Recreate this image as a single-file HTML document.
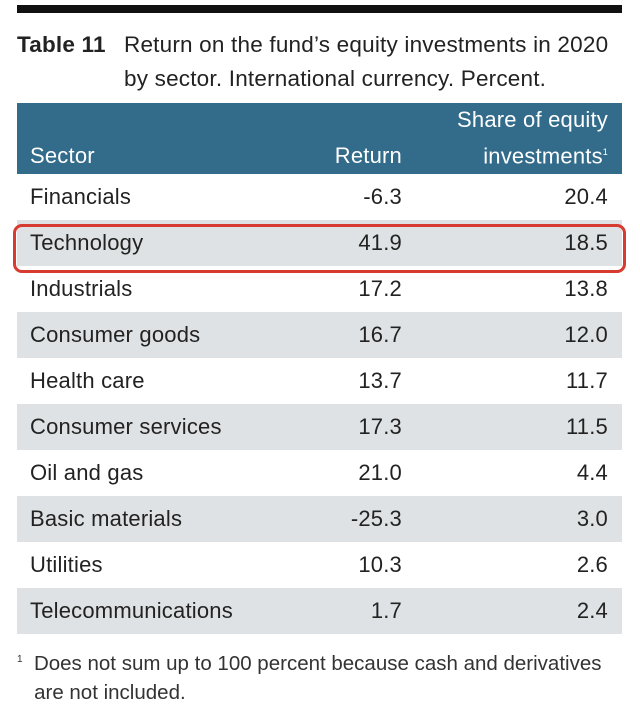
<!DOCTYPE html>
<html><head><meta charset="utf-8"><style>
body{margin:0;width:640px;height:707px;background:#fff;font-family:"Liberation Sans",sans-serif;color:#222;position:relative;overflow:hidden}
.bar{position:absolute;left:17px;top:5px;width:605px;height:8px;background:#111}
.t{position:absolute;font-size:22.5px;color:#222;line-height:34px;letter-spacing:0.2px}
table{position:absolute;left:17px;top:103px;width:605px;border-collapse:collapse;font-size:22px;table-layout:fixed;letter-spacing:0.2px}
th{background:#336b8a;color:#fff;font-weight:normal;height:70px;vertical-align:bottom;padding:0 14px 2px 13px;line-height:33px;box-sizing:border-box}
td{height:46px;padding:0 14px 0 13px;color:#222;box-sizing:border-box}
tr.g td{background:#dfe2e4}
.r{text-align:right}
.red{position:absolute;left:13px;top:224px;width:607px;height:43px;border:3px solid #d63a30;border-radius:9px}
.fn{position:absolute;left:17px;top:645px;font-size:20.5px;line-height:29px;color:#333}
</style></head><body>
<div class="bar"></div>
<div class="t" style="left:17px;top:28px;font-weight:bold">Table 11</div>
<div class="t" style="left:124px;top:28px">Return on the fund’s equity investments in 2020<br>by sector. International currency. Percent.</div>
<table>
<colgroup><col style="width:289px"><col style="width:110px"><col style="width:206px"></colgroup>
<tr><th style="text-align:left">Sector</th><th class="r">Return</th><th class="r">Share of equity<br>investments<sup style="font-size:9px">1</sup></th></tr>
<tr><td>Financials</td><td class="r">-6.3</td><td class="r">20.4</td></tr>
<tr class="g"><td>Technology</td><td class="r">41.9</td><td class="r">18.5</td></tr>
<tr><td>Industrials</td><td class="r">17.2</td><td class="r">13.8</td></tr>
<tr class="g"><td>Consumer goods</td><td class="r">16.7</td><td class="r">12.0</td></tr>
<tr><td>Health care</td><td class="r">13.7</td><td class="r">11.7</td></tr>
<tr class="g"><td>Consumer services</td><td class="r">17.3</td><td class="r">11.5</td></tr>
<tr><td>Oil and gas</td><td class="r">21.0</td><td class="r">4.4</td></tr>
<tr class="g"><td>Basic materials</td><td class="r">-25.3</td><td class="r">3.0</td></tr>
<tr><td>Utilities</td><td class="r">10.3</td><td class="r">2.6</td></tr>
<tr class="g"><td>Telecommunications</td><td class="r">1.7</td><td class="r">2.4</td></tr>
</table>
<div class="red"></div>
<div class="fn"><sup style="font-size:10px">1</sup>&nbsp; Does not sum up to 100 percent because cash and derivatives<br>&nbsp;&nbsp;&nbsp;are not included.</div>
</body></html>
